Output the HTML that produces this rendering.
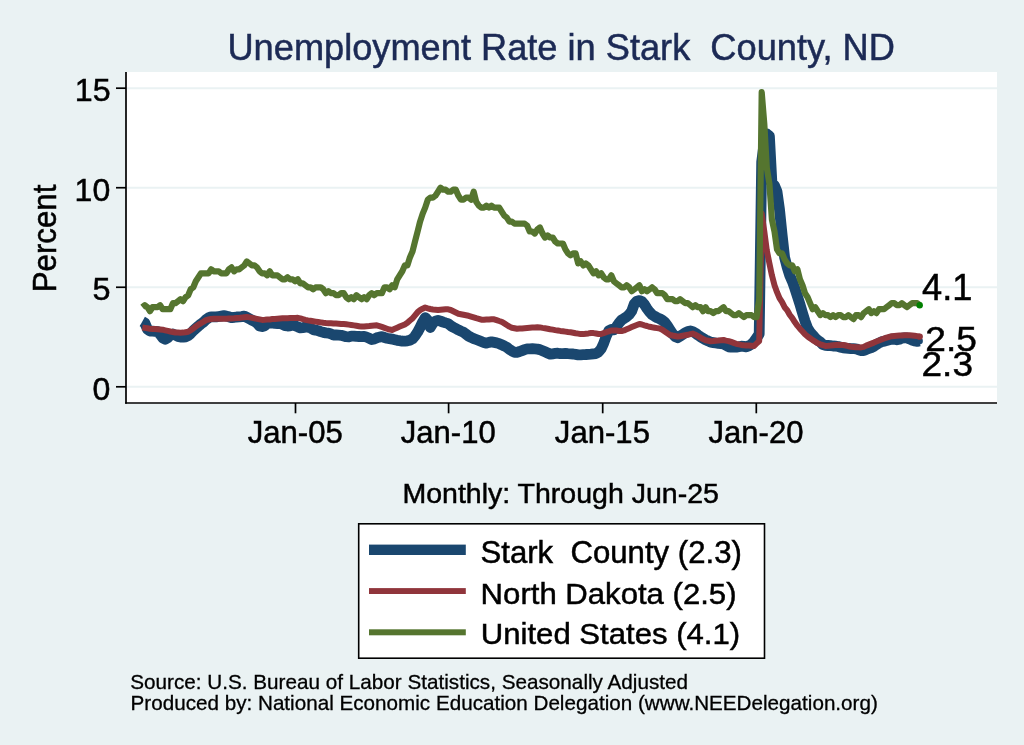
<!DOCTYPE html>
<html><head><meta charset="utf-8"><title>Unemployment Rate in Stark County, ND</title>
<style>
html,body{margin:0;padding:0;background:#EAF2F3;width:1024px;height:745px;overflow:hidden}
svg{display:block;font-family:"Liberation Sans",sans-serif;will-change:transform}
</style></head><body>
<svg width="1024" height="745" viewBox="0 0 1024 745">
<rect x="0" y="0" width="1024" height="745" fill="#EAF2F3"/>
<rect x="126.0" y="72.0" width="871.0" height="331.5" fill="#fff"/>
<line x1="127.0" x2="997.0" y1="386.80" y2="386.80" stroke="#EAF2F3" stroke-width="2"/>
<line x1="127.0" x2="997.0" y1="287.26" y2="287.26" stroke="#EAF2F3" stroke-width="2"/>
<line x1="127.0" x2="997.0" y1="187.73" y2="187.73" stroke="#EAF2F3" stroke-width="2"/>
<line x1="127.0" x2="997.0" y1="88.19" y2="88.19" stroke="#EAF2F3" stroke-width="2"/>
<polyline points="142.3,321.5 144.8,322.9 147.4,329.1 149.9,331.0 152.5,331.1 155.0,331.3 157.6,331.7 160.1,334.4 162.7,337.9 165.2,339.2 167.8,337.8 170.3,334.9 172.9,334.0 175.4,335.2 178.0,336.5 180.5,337.1 183.1,337.2 185.6,336.8 188.2,335.6 190.7,333.5 193.3,330.6 195.8,328.4 198.4,326.1 200.9,324.0 203.5,322.1 206.0,319.7 208.6,317.8 211.1,316.8 213.7,316.8 216.2,316.9 218.8,316.5 221.3,316.1 223.9,315.7 226.4,316.1 229.0,316.8 231.5,317.7 234.1,317.3 236.6,317.0 239.2,316.9 241.7,316.6 244.3,316.1 246.8,317.4 249.4,318.8 251.9,320.1 254.5,321.4 257.0,323.2 259.6,326.0 262.1,326.6 264.7,325.8 267.2,323.2 269.8,323.0 272.3,323.0 274.8,323.4 277.4,323.5 279.9,323.5 282.5,324.4 285.0,325.6 287.6,326.0 290.1,325.8 292.7,325.1 295.2,325.8 297.8,326.9 300.3,327.8 302.9,327.6 305.4,327.2 308.0,327.2 310.5,327.9 313.1,329.6 315.6,330.1 318.2,330.7 320.7,331.6 323.3,332.4 325.8,332.9 328.4,333.1 330.9,333.9 333.5,335.0 336.0,334.9 338.6,335.1 341.1,335.3 343.7,336.0 346.2,336.7 348.8,336.9 351.3,336.1 353.9,336.1 356.4,336.4 359.0,336.5 361.5,336.7 364.1,336.3 366.6,337.1 369.2,338.2 371.7,339.6 374.3,339.0 376.8,337.8 379.4,337.1 381.9,336.7 384.5,337.5 387.0,338.2 389.6,338.7 392.1,339.1 394.7,339.7 397.2,340.3 399.7,340.7 402.3,341.2 404.8,341.1 407.4,340.8 409.9,340.2 412.5,338.8 415.0,336.0 417.6,332.1 420.1,327.4 422.7,321.9 425.2,317.6 427.8,320.3 430.3,327.5 432.9,323.2 435.4,321.1 438.0,320.3 440.5,321.1 443.1,322.1 445.6,322.9 448.2,323.6 450.7,325.7 453.3,327.2 455.8,328.5 458.4,329.9 460.9,331.1 463.5,332.2 466.0,334.1 468.6,336.1 471.1,337.4 473.7,338.6 476.2,339.5 478.8,340.5 481.3,341.5 483.9,342.6 486.4,343.2 489.0,342.4 491.5,341.9 494.1,342.4 496.6,342.9 499.2,343.7 501.7,344.8 504.3,346.0 506.8,347.3 509.4,349.4 511.9,350.9 514.5,352.3 517.0,352.3 519.6,351.5 522.1,350.6 524.6,349.7 527.2,348.9 529.7,348.8 532.3,348.7 534.8,348.9 537.4,349.1 539.9,349.6 542.5,350.7 545.0,351.8 547.6,353.0 550.1,354.2 552.7,353.8 555.2,353.4 557.8,353.2 560.3,353.7 562.9,353.7 565.4,353.5 568.0,353.7 570.5,353.8 573.1,354.0 575.6,354.4 578.2,354.9 580.7,354.8 583.3,354.6 585.8,354.5 588.4,354.3 590.9,354.1 593.5,353.8 596.0,353.6 598.6,351.9 601.1,348.9 603.7,343.3 606.2,336.3 608.8,330.8 611.3,329.4 613.9,329.9 616.4,326.8 619.0,323.0 621.5,320.1 624.1,318.4 626.6,316.9 629.2,314.5 631.7,311.1 634.3,303.9 636.8,301.2 639.4,300.6 641.9,301.6 644.5,304.6 647.0,308.6 649.6,312.1 652.1,314.7 654.6,316.3 657.2,317.8 659.7,318.8 662.3,320.3 664.8,322.3 667.4,325.8 669.9,329.6 672.5,333.7 675.0,336.5 677.6,337.7 680.1,336.1 682.7,334.4 685.2,332.8 687.8,331.5 690.3,331.0 692.9,331.7 695.4,333.1 698.0,335.1 700.5,336.8 703.1,338.4 705.6,339.9 708.2,341.0 710.7,342.2 713.3,342.6 715.8,343.0 718.4,343.4 720.9,343.6 723.5,344.0 726.0,345.4 728.6,346.8 731.1,347.2 733.7,347.2 736.2,347.2 738.8,346.7 741.3,346.2 743.9,346.4 746.4,346.9 749.0,345.8 751.5,344.2 754.1,341.5 756.6,338.0 759.2,334.0 761.7,161.9 764.3,141.9 766.8,134.0 769.4,136.0 771.9,182.8 774.5,185.7 777.0,191.7 779.5,209.6 782.1,234.7 784.6,257.4 787.2,267.4 789.7,275.3 792.3,281.3 794.8,288.3 797.4,296.2 799.9,304.2 802.5,313.1 805.0,321.1 807.6,328.1 810.1,332.1 812.7,335.0 815.2,338.0 817.8,340.4 820.3,342.0 822.9,344.6 825.4,345.3 828.0,345.5 830.5,345.7 833.1,346.0 835.6,346.2 838.2,346.5 840.7,347.2 843.3,347.9 845.8,348.2 848.4,348.4 850.9,348.6 853.5,348.7 856.0,348.8 858.6,349.9 861.1,350.6 863.7,350.6 866.2,349.5 868.8,348.5 871.3,347.6 873.9,346.3 876.4,344.6 879.0,343.0 881.5,341.8 884.1,341.2 886.6,340.6 889.2,339.9 891.7,339.1 894.3,339.3 896.8,339.8 899.4,339.2 901.9,338.1 904.5,337.8 907.0,337.9 909.5,338.9 912.1,340.1 914.6,341.0 917.2,341.4 919.7,341.0" fill="none" stroke-linejoin="round" stroke-linecap="butt" stroke="#1A476F" stroke-width="10.8"/>
<circle cx="919.7" cy="341.0" r="3.2" fill="#1A476F"/>
<polyline points="142.3,327.5 144.8,327.9 147.4,328.3 149.9,328.7 152.5,328.9 155.0,329.0 157.6,329.2 160.1,329.4 162.7,329.7 165.2,330.3 167.8,330.9 170.3,331.5 172.9,332.0 175.4,332.5 178.0,332.6 180.5,332.7 183.1,332.6 185.6,332.2 188.2,331.8 190.7,330.2 193.3,328.5 195.8,326.4 198.4,324.7 200.9,323.3 203.5,321.7 206.0,320.1 208.6,319.5 211.1,319.0 213.7,318.8 216.2,318.8 218.8,318.8 221.3,318.8 223.9,318.8 226.4,318.7 229.0,318.5 231.5,318.4 234.1,318.3 236.6,318.1 239.2,317.9 241.7,317.6 244.3,317.2 246.8,316.9 249.4,317.4 251.9,317.9 254.5,318.4 257.0,318.9 259.6,319.4 262.1,319.9 264.7,319.8 267.2,319.6 269.8,319.4 272.3,319.1 274.8,318.9 277.4,318.7 279.9,318.5 282.5,318.3 285.0,318.3 287.6,318.2 290.1,318.1 292.7,318.0 295.2,317.9 297.8,317.8 300.3,318.4 302.9,319.2 305.4,319.9 308.0,320.4 310.5,320.8 313.1,321.2 315.6,321.6 318.2,322.0 320.7,322.4 323.3,322.8 325.8,323.1 328.4,323.2 330.9,323.3 333.5,323.5 336.0,323.6 338.6,323.7 341.1,323.9 343.7,324.0 346.2,324.2 348.8,324.6 351.3,325.0 353.9,325.4 356.4,325.8 359.0,326.2 361.5,326.6 364.1,326.4 366.6,326.2 369.2,326.0 371.7,325.7 374.3,325.5 376.8,325.3 379.4,326.1 381.9,326.9 384.5,327.8 387.0,328.7 389.6,329.6 392.1,329.9 394.7,328.8 397.2,327.7 399.7,326.6 402.3,325.5 404.8,324.4 407.4,322.7 409.9,320.5 412.5,318.4 415.0,315.3 417.6,312.2 420.1,310.2 422.7,308.7 425.2,307.5 427.8,308.3 430.3,309.0 432.9,309.5 435.4,309.8 438.0,310.1 440.5,309.8 443.1,309.5 445.6,309.2 448.2,309.3 450.7,310.0 453.3,311.3 455.8,312.5 458.4,313.8 460.9,314.3 463.5,314.8 466.0,315.3 468.6,315.8 471.1,316.6 473.7,317.4 476.2,318.2 478.8,318.9 481.3,319.7 483.9,319.7 486.4,319.5 489.0,319.4 491.5,319.2 494.1,319.3 496.6,320.1 499.2,321.0 501.7,321.8 504.3,323.4 506.8,325.0 509.4,326.6 511.9,327.8 514.5,328.3 517.0,328.8 519.6,328.6 522.1,328.4 524.6,328.2 527.2,328.0 529.7,327.8 532.3,327.6 534.8,327.4 537.4,327.2 539.9,327.4 542.5,327.9 545.0,328.3 547.6,328.7 550.1,329.2 552.7,329.6 555.2,330.1 557.8,330.5 560.3,330.9 562.9,331.2 565.4,331.6 568.0,332.0 570.5,332.3 573.1,332.7 575.6,333.2 578.2,333.6 580.7,334.1 583.3,334.1 585.8,333.7 588.4,333.4 590.9,333.0 593.5,333.1 596.0,333.5 598.6,334.0 601.1,334.0 603.7,333.1 606.2,332.2 608.8,331.4 611.3,330.5 613.9,330.4 616.4,330.6 619.0,330.9 621.5,331.1 624.1,330.4 626.6,329.3 629.2,328.2 631.7,327.1 634.3,326.0 636.8,325.0 639.4,323.9 641.9,324.5 644.5,325.3 647.0,326.0 649.6,326.8 652.1,327.3 654.6,327.7 657.2,328.1 659.7,328.5 662.3,329.7 664.8,331.4 667.4,333.2 669.9,334.9 672.5,335.5 675.0,336.0 677.6,336.6 680.1,336.3 682.7,335.8 685.2,335.3 687.8,334.8 690.3,334.2 692.9,333.6 695.4,334.8 698.0,336.1 700.5,337.6 703.1,339.1 705.6,340.2 708.2,340.7 710.7,341.2 713.3,341.0 715.8,340.7 718.4,340.5 720.9,340.2 723.5,340.0 726.0,340.6 728.6,341.1 731.1,341.9 733.7,342.9 736.2,343.8 738.8,344.4 741.3,344.9 743.9,345.2 746.4,345.4 749.0,345.6 751.5,345.8 754.1,346.0 756.6,343.5 759.2,341.0 761.7,213.6 764.3,231.5 766.8,250.4 769.4,263.4 771.9,275.3 774.5,285.3 777.0,292.2 779.5,298.2 782.1,302.2 784.6,307.2 787.2,310.2 789.7,314.7 792.3,318.1 794.8,322.1 797.4,325.7 799.9,328.7 802.5,331.5 805.0,334.3 807.6,336.5 810.1,338.3 812.7,340.1 815.2,341.6 817.8,343.2 820.3,344.3 822.9,345.2 825.4,345.9 828.0,345.8 830.5,345.6 833.1,345.3 835.6,345.0 838.2,344.7 840.7,344.9 843.3,345.0 845.8,345.5 848.4,346.2 850.9,346.7 853.5,346.9 856.0,347.2 858.6,347.3 861.1,347.4 863.7,346.9 866.2,345.6 868.8,344.6 871.3,343.6 873.9,342.6 876.4,341.5 879.0,340.5 881.5,339.5 884.1,338.5 886.6,337.6 889.2,336.9 891.7,336.2 894.3,335.9 896.8,335.7 899.4,335.5 901.9,335.4 904.5,335.3 907.0,335.3 909.5,335.3 912.1,335.5 914.6,335.7 917.2,336.1 919.7,336.6" fill="none" stroke-linejoin="round" stroke-linecap="butt" stroke="#90353B" stroke-width="6"/>
<circle cx="919.7" cy="336.6" r="3.2" fill="#90353B"/>
<polyline points="142.3,307.2 144.8,305.2 147.4,307.2 149.9,311.2 152.5,307.2 155.0,307.2 157.6,307.2 160.1,305.2 162.7,309.2 165.2,309.2 167.8,309.2 170.3,309.2 172.9,303.2 175.4,303.2 178.0,301.2 180.5,299.2 183.1,301.2 185.6,297.2 188.2,295.2 190.7,289.3 193.3,287.3 195.8,281.3 198.4,277.3 200.9,273.3 203.5,273.3 206.0,273.3 208.6,273.3 211.1,269.3 213.7,271.3 216.2,271.3 218.8,271.3 221.3,273.3 223.9,273.3 226.4,273.3 229.0,269.3 231.5,267.4 234.1,271.3 236.6,269.3 239.2,269.3 241.7,267.4 244.3,265.4 246.8,261.4 249.4,263.4 251.9,265.4 254.5,265.4 257.0,267.4 259.6,271.3 262.1,273.3 264.7,273.3 267.2,275.3 269.8,271.3 272.3,275.3 274.8,275.3 277.4,275.3 279.9,277.3 282.5,279.3 285.0,279.3 287.6,277.3 290.1,279.3 292.7,279.3 295.2,281.3 297.8,279.3 300.3,283.3 302.9,283.3 305.4,285.3 308.0,287.3 310.5,287.3 313.1,289.3 315.6,287.3 318.2,287.3 320.7,287.3 323.3,289.3 325.8,293.2 328.4,291.2 330.9,293.2 333.5,293.2 336.0,295.2 338.6,295.2 341.1,293.2 343.7,293.2 346.2,297.2 348.8,299.2 351.3,297.2 353.9,299.2 356.4,295.2 359.0,297.2 361.5,299.2 364.1,297.2 366.6,299.2 369.2,295.2 371.7,293.2 374.3,295.2 376.8,293.2 379.4,293.2 381.9,293.2 384.5,287.3 387.0,287.3 389.6,289.3 392.1,285.3 394.7,287.3 397.2,279.3 399.7,275.3 402.3,271.3 404.8,265.4 407.4,265.4 409.9,257.4 412.5,251.4 415.0,241.5 417.6,231.5 420.1,221.6 422.7,213.6 425.2,207.6 427.8,199.7 430.3,197.7 432.9,197.7 435.4,195.7 438.0,191.7 440.5,187.7 443.1,189.7 445.6,189.7 448.2,191.7 450.7,191.7 453.3,189.7 455.8,189.7 458.4,195.7 460.9,199.7 463.5,199.7 466.0,197.7 468.6,197.7 471.1,199.7 473.7,191.7 476.2,201.7 478.8,205.6 481.3,207.6 483.9,207.6 486.4,205.6 489.0,207.6 491.5,205.6 494.1,207.6 496.6,207.6 499.2,207.6 501.7,211.6 504.3,215.6 506.8,217.6 509.4,221.6 511.9,221.6 514.5,223.6 517.0,223.6 519.6,223.6 522.1,223.6 524.6,223.6 527.2,225.6 529.7,231.5 532.3,231.5 534.8,233.5 537.4,229.5 539.9,227.5 542.5,233.5 545.0,237.5 547.6,235.5 550.1,237.5 552.7,237.5 555.2,241.5 557.8,243.5 560.3,243.5 562.9,243.5 565.4,249.4 568.0,253.4 570.5,255.4 573.1,253.4 575.6,253.4 578.2,263.4 580.7,261.4 583.3,265.4 585.8,263.4 588.4,265.4 590.9,269.3 593.5,273.3 596.0,271.3 598.6,275.3 601.1,273.3 603.7,277.3 606.2,279.3 608.8,279.3 611.3,275.3 613.9,281.3 616.4,283.3 619.0,285.3 621.5,287.3 624.1,287.3 626.6,285.3 629.2,287.3 631.7,291.2 634.3,289.3 636.8,287.3 639.4,285.3 641.9,291.2 644.5,289.3 647.0,291.2 649.6,289.3 652.1,287.3 654.6,289.3 657.2,293.2 659.7,293.2 662.3,293.2 664.8,295.2 667.4,299.2 669.9,299.2 672.5,299.2 675.0,301.2 677.6,301.2 680.1,299.2 682.7,301.2 685.2,303.2 687.8,303.2 690.3,305.2 692.9,307.2 695.4,305.2 698.0,307.2 700.5,307.2 703.1,311.2 705.6,307.2 708.2,311.2 710.7,311.2 713.3,313.1 715.8,311.2 718.4,311.2 720.9,309.2 723.5,307.2 726.0,311.2 728.6,311.2 731.1,313.1 733.7,315.1 736.2,315.1 738.8,313.1 741.3,315.1 743.9,317.1 746.4,315.1 749.0,315.1 751.5,315.1 754.1,317.1 756.6,317.1 759.2,299.2 761.7,92.2 764.3,124.0 766.8,167.8 769.4,183.7 771.9,219.6 774.5,231.5 777.0,249.4 779.5,253.4 782.1,253.4 784.6,259.4 787.2,263.4 789.7,265.4 792.3,265.4 794.8,271.3 797.4,269.3 799.9,279.3 802.5,285.3 805.0,293.2 807.6,297.2 810.1,303.2 812.7,309.2 815.2,307.2 817.8,311.2 820.3,315.1 822.9,313.1 825.4,315.1 828.0,315.1 830.5,317.1 833.1,315.1 835.6,317.1 838.2,315.1 840.7,315.1 843.3,317.1 845.8,317.1 848.4,315.1 850.9,317.1 853.5,319.1 856.0,315.1 858.6,315.1 861.1,317.1 863.7,313.1 866.2,311.2 868.8,309.2 871.3,313.1 873.9,311.2 876.4,313.1 879.0,309.2 881.5,309.2 884.1,309.2 886.6,307.2 889.2,305.2 891.7,303.2 894.3,303.2 896.8,305.2 899.4,305.2 901.9,303.2 904.5,305.2 907.0,307.2 909.5,305.2 912.1,303.2 914.6,303.2 917.2,303.2 919.7,305.2" fill="none" stroke-linejoin="round" stroke-linecap="butt" stroke="#55752F" stroke-width="6.2"/>
<circle cx="919.7" cy="305.2" r="3.2" fill="#008000"/>
<g stroke="#000" stroke-width="1.7" fill="none">
<line x1="126" x2="126" y1="72" y2="403.8"/>
<line x1="125.2" x2="997" y1="403" y2="403"/>
<line x1="116" x2="126" y1="386.80" y2="386.80"/>
<line x1="116" x2="126" y1="287.26" y2="287.26"/>
<line x1="116" x2="126" y1="187.73" y2="187.73"/>
<line x1="116" x2="126" y1="88.19" y2="88.19"/>
<line x1="295.5" x2="295.5" y1="403" y2="413.3"/>
<line x1="448.6" x2="448.6" y1="403" y2="413.3"/>
<line x1="602.7" x2="602.7" y1="403" y2="413.3"/>
<line x1="756.3" x2="756.3" y1="403" y2="413.3"/>
</g>
<rect x="358.7" y="523.8" width="405.8" height="134.4" fill="#fff" stroke="#000" stroke-width="1.6"/>
<rect x="369" y="544.6" width="96.8" height="10.4" fill="#1A476F"/>
<rect x="369" y="588.1" width="96.8" height="5.9" fill="#90353B"/>
<rect x="369" y="629.3" width="96.8" height="6" fill="#55752F"/>
<g font-family="Liberation Sans, sans-serif" stroke-width="0.5"><text transform="translate(227.48 59.70) scale(1 0.9949)" font-size="36.22" fill="#1C2A55" stroke="#1C2A55">Unemployment Rate in Stark&#160; County, ND</text><text x="74.73" y="101.10" font-size="32.21" fill="#000" stroke="#000">15</text><text transform="translate(74.61 200.80) scale(1 0.9938)" font-size="32.08" fill="#000" stroke="#000">10</text><text transform="translate(92.40 300.30) scale(1 0.9879)" font-size="32.42" fill="#000" stroke="#000">5</text><text x="92.42" y="400.30" font-size="32.08" fill="#000" stroke="#000">0</text><text transform="translate(247.63 442.70) scale(1 1.0055)" font-size="31.13" fill="#000" stroke="#000">Jan-05</text><text transform="translate(400.73 442.70) scale(1 1.0072)" font-size="31.08" fill="#000" stroke="#000">Jan-10</text><text transform="translate(554.83 442.70) scale(1 1.0055)" font-size="31.13" fill="#000" stroke="#000">Jan-15</text><text transform="translate(708.43 442.70) scale(1 1.0072)" font-size="31.08" fill="#000" stroke="#000">Jan-20</text><text x="402.42" y="502.80" font-size="28.52" fill="#000" stroke="#000">Monthly: Through Jun-25</text><text transform="translate(480.50 562.80) scale(1 0.9777)" font-size="31.15" fill="#000" stroke="#000">Stark&#160; County (2.3)</text><text transform="translate(480.61 603.50) scale(1 0.9612)" font-size="31.12" fill="#000" stroke="#000">North Dakota (2.5)</text><text transform="translate(480.76 644.00) scale(1 0.9654)" font-size="31.13" fill="#000" stroke="#000">United States (4.1)</text><text transform="translate(130.27 688.50) scale(1 0.9938)" font-size="20.70" fill="#000" stroke="#000" stroke-width="0.3">Source: U.S. Bureau of Labor Statistics, Seasonally Adjusted</text><text transform="translate(130.55 709.90) scale(1 1.0171)" font-size="20.66" fill="#000" stroke="#000" stroke-width="0.3">Produced by: National Economic Education Delegation (www.NEEDelegation.org)</text><text transform="translate(921.98 299.90) scale(1 1.0318)" font-size="36.24" fill="#000" stroke="#000">4.1</text><text transform="translate(925.24 351.20) scale(1 0.9536)" font-size="37.15" fill="#000" stroke="#000">2.5</text><text transform="translate(921.55 375.60) scale(1 0.9498)" font-size="37.00" fill="#000" stroke="#000">2.3</text><text transform="translate(56 289.70) rotate(-90) scale(1 1.0630)" x="-2.50" y="0" font-size="31.22" fill="#000" stroke="#000">Percent</text></g>
</svg>
</body></html>
